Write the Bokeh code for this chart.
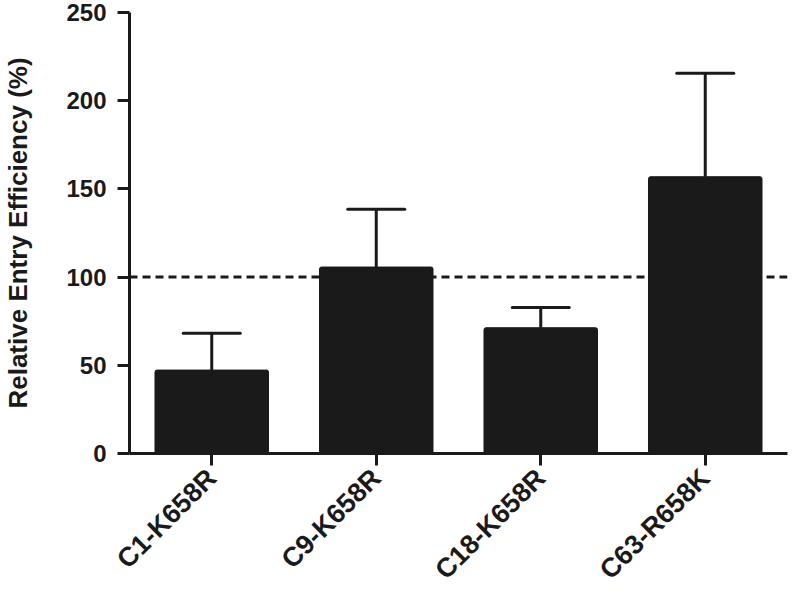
import math
from bokeh.plotting import figure
from bokeh.models import ColumnDataSource, Whisker, TeeHead, Span, FactorRange, Range1d, FixedTicker
from bokeh.embed import file_html
from bokeh.resources import INLINE

categories = ["C1-K658R", "C9-K658R", "C18-K658R", "C63-R658K"]
values = [47.3, 105.7, 71.3, 156.9]
upper_err = [68.1, 138.4, 82.7, 215.5]
y_ticks = [0, 50, 100, 150, 200, 250]
reference_level = 100

INK = "#1a1a1a"
FONT = "Liberation Sans"

src = ColumnDataSource(data=dict(cat=categories, val=values, up=upper_err))

p = figure(
    x_range=FactorRange(*categories, range_padding=0.0),
    y_range=Range1d(0, 250),
    width=788, height=599,
    output_backend="svg", toolbar_location=None,
    min_border_left=125, min_border_top=12, min_border_right=1, min_border_bottom=146,
)
p.outline_line_color = None
p.xgrid.grid_line_color = None
p.ygrid.grid_line_color = None
p.background_fill_color = "white"
p.border_fill_color = "white"

ref = Span(location=reference_level, dimension="width", line_color=INK,
           line_width=3, line_dash="8 5", level="underlay")
p.add_layout(ref)

p.vbar(x="cat", top="val", bottom=0, width=0.69, source=src,
       fill_color=INK, line_color=INK, line_width=1, border_radius=2)

w = Whisker(base="cat", lower="val", upper="up", source=src, dimension="height",
            line_color=INK, line_width=3,
            upper_head=TeeHead(size=57, line_color=INK, line_width=3, line_cap="round"),
            lower_head=None, level="glyph")
p.add_layout(w)

for ax in (p.xaxis[0], p.yaxis[0]):
    ax.axis_line_width = 3
    ax.axis_line_color = INK
    ax.major_tick_line_width = 3
    ax.major_tick_line_color = INK
    ax.minor_tick_line_color = None
    ax.major_tick_in = 0
    ax.major_label_text_font = FONT
    ax.major_label_text_font_style = "bold"
    ax.major_label_text_color = INK

p.yaxis.ticker = FixedTicker(ticks=y_ticks)
p.yaxis.major_tick_out = 12
p.yaxis.major_label_text_font_size = "24px"
p.yaxis.major_label_standoff = 11
p.yaxis.axis_label = "Relative Entry Efficiency (%)"
p.yaxis.axis_label_text_font = FONT
p.yaxis.axis_label_text_font_style = "bold"
p.yaxis.axis_label_text_font_size = "26px"
p.yaxis.axis_label_text_color = INK
p.yaxis.axis_label_standoff = 30

p.xaxis.major_tick_out = 12
p.xaxis.major_label_text_font_size = "27px"
p.xaxis.major_label_orientation = math.pi / 4
p.xaxis.major_label_standoff = 8
p.xaxis.group_text_font_size = "0px"

open("out.html", "w").write(file_html(p, INLINE))
